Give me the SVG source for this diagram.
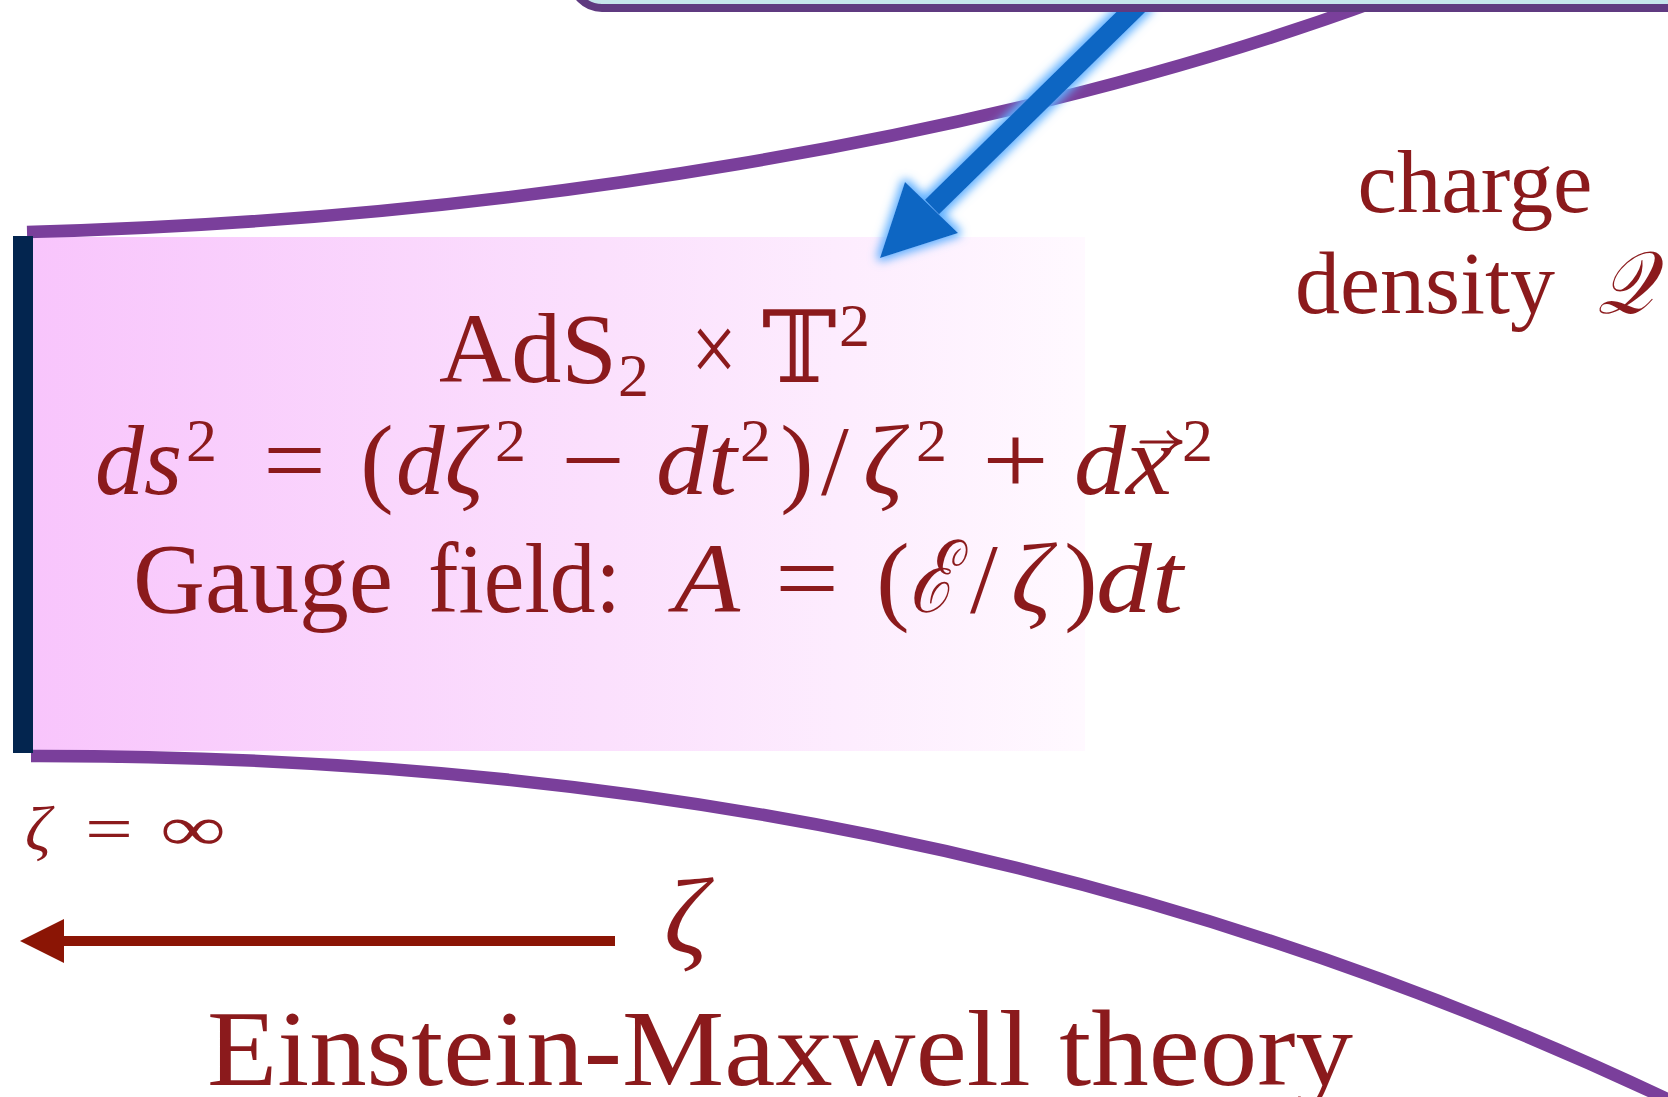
<svg xmlns="http://www.w3.org/2000/svg" width="1668" height="1097" viewBox="0 0 1668 1097">
<style>
.t{font-family:"Liberation Serif","DejaVu Serif",serif;fill:#8b1a1c}
.i{font-style:italic}
.curve{fill:none;stroke:#7a3f9b;stroke-width:12.5}
</style>
<defs>
<linearGradient id="pink" x1="0" y1="0" x2="1" y2="0">
<stop offset="0" stop-color="#f8c4fc"/>
<stop offset="0.55" stop-color="#fbe0fd"/>
<stop offset="1" stop-color="#fff9ff"/>
</linearGradient>
<filter id="glow" x="-30%" y="-30%" width="160%" height="160%">
<feMorphology in="SourceAlpha" operator="dilate" radius="3" result="d"/>
<feGaussianBlur in="d" stdDeviation="5" result="b"/>
<feFlood flood-color="#5fb0ff"/>
<feComposite in2="b" operator="in" result="g"/>
<feMerge><feMergeNode in="g"/><feMergeNode in="SourceGraphic"/></feMerge>
</filter>
</defs>
<rect width="1668" height="1097" fill="#ffffff"/>

<g id="region">
<rect x="13" y="237" width="1072" height="514" fill="url(#pink)"/>
</g>

<g id="connectors">
<path class="curve" d="M27,232 C500,220 1000,140 1380,0"/>
<path class="curve" d="M31,756 C600,755 1150,850 1690,1110"/>
<g filter="url(#glow)">
<line x1="1143" y1="0" x2="932" y2="207" stroke="#0866c3" stroke-width="20"/>
<polygon points="880,258 905,182 958,233" fill="#0866c3"/>
</g>
<line x1="615" y1="941" x2="60" y2="941" stroke="#8b1505" stroke-width="10"/>
<polygon points="20,941 64,919 64,963" fill="#8b1505"/>
</g>

<g id="boundary">
<rect x="13" y="236" width="20" height="517" fill="#03254f"/>
</g>

<g id="top-box">
<rect x="572" y="-100" width="1200" height="108" rx="30" fill="#c5e5eb" stroke="#5f3a80" stroke-width="8"/>
</g>

<g id="bulk-text">
<text class="t" font-size="100" x="439" y="382" textLength="178" lengthAdjust="spacingAndGlyphs">AdS</text>
<text class="t" font-size="62" x="618" y="396">2</text>
<text class="t" font-size="100" x="691" y="382" textLength="46" lengthAdjust="spacingAndGlyphs">×</text>
<text class="t" font-size="100" x="762" y="382">𝕋</text>
<text class="t" font-size="62" x="839" y="346">2</text>

<text class="t i" font-size="100" x="95" y="494" textLength="87" lengthAdjust="spacingAndGlyphs">ds</text>
<text class="t" font-size="62" x="186" y="461">2</text>
<text class="t" font-size="100" x="263" y="494" textLength="63" lengthAdjust="spacingAndGlyphs">=</text>
<text class="t" font-size="100" x="377" y="494" text-anchor="middle">(</text>
<text class="t i" font-size="100" x="396" y="494" textLength="88" lengthAdjust="spacingAndGlyphs">dζ</text>
<text class="t" font-size="62" x="495" y="461">2</text>
<text class="t" font-size="100" x="561" y="494" textLength="64" lengthAdjust="spacingAndGlyphs">−</text>
<text class="t i" font-size="100" x="656" y="494" textLength="81" lengthAdjust="spacingAndGlyphs">dt</text>
<text class="t" font-size="62" x="740" y="461">2</text>
<text class="t" font-size="100" x="797" y="494" text-anchor="middle">)</text>
<text class="t" font-size="100" x="835" y="494" text-anchor="middle">/</text>
<text class="t i" font-size="100" x="863" y="494">ζ</text>
<text class="t" font-size="62" x="916" y="461">2</text>
<text class="t" font-size="100" x="982" y="494" textLength="67" lengthAdjust="spacingAndGlyphs">+</text>
<text class="t i" font-size="100" x="1074" y="494" textLength="98" lengthAdjust="spacingAndGlyphs">dx</text>
<path d="M1141,442 H1179 M1168,432 Q1173,440 1182,442 Q1173,444 1168,452" fill="none" stroke="#8b1a1c" stroke-width="3.2" stroke-linecap="round"/>
<text class="t" font-size="62" x="1182" y="461">2</text>

<text class="t" font-size="100" x="133" y="612" textLength="260" lengthAdjust="spacingAndGlyphs">Gauge</text>
<text class="t" font-size="100" x="428" y="612" textLength="193" lengthAdjust="spacingAndGlyphs">field:</text>
<text class="t i" font-size="100" x="674" y="612" textLength="66" lengthAdjust="spacingAndGlyphs">A</text>
<text class="t" font-size="100" x="775" y="612" textLength="64" lengthAdjust="spacingAndGlyphs">=</text>
<text class="t" font-size="100" x="893" y="612" text-anchor="middle">(</text>
<text class="t i" font-size="100" x="909" y="612" textLength="46" lengthAdjust="spacingAndGlyphs">ℰ</text>
<text class="t" font-size="100" x="984" y="612" text-anchor="middle">/</text>
<text class="t i" font-size="100" x="1011" y="612">ζ</text>
<text class="t" font-size="100" x="1081" y="612" text-anchor="middle">)</text>
<text class="t i" font-size="100" x="1096" y="612" textLength="87" lengthAdjust="spacingAndGlyphs">dt</text>
</g>

<g id="charge-label">
<text class="t" font-size="88" x="1475" y="212" text-anchor="middle" textLength="235" lengthAdjust="spacingAndGlyphs">charge</text>
<text class="t" font-size="88" x="1295" y="313" textLength="260" lengthAdjust="spacingAndGlyphs">density</text>
<text class="t i" font-size="88" x="1597" y="313" textLength="56" lengthAdjust="spacingAndGlyphs">𝒬</text>
</g>

<g id="axis-labels">
<text class="t i" font-size="64" x="25" y="850">ζ</text>
<text class="t" font-size="64" x="85" y="850" textLength="48" lengthAdjust="spacingAndGlyphs">=</text>
<text class="t" font-size="64" x="160" y="850" textLength="66" lengthAdjust="spacingAndGlyphs">∞</text>
<text class="t i" font-size="108" x="664" y="953">ζ</text>
<text class="t" font-size="108" x="207" y="1085" textLength="1146" lengthAdjust="spacingAndGlyphs">Einstein-Maxwell theory</text>
</g>
</svg>
